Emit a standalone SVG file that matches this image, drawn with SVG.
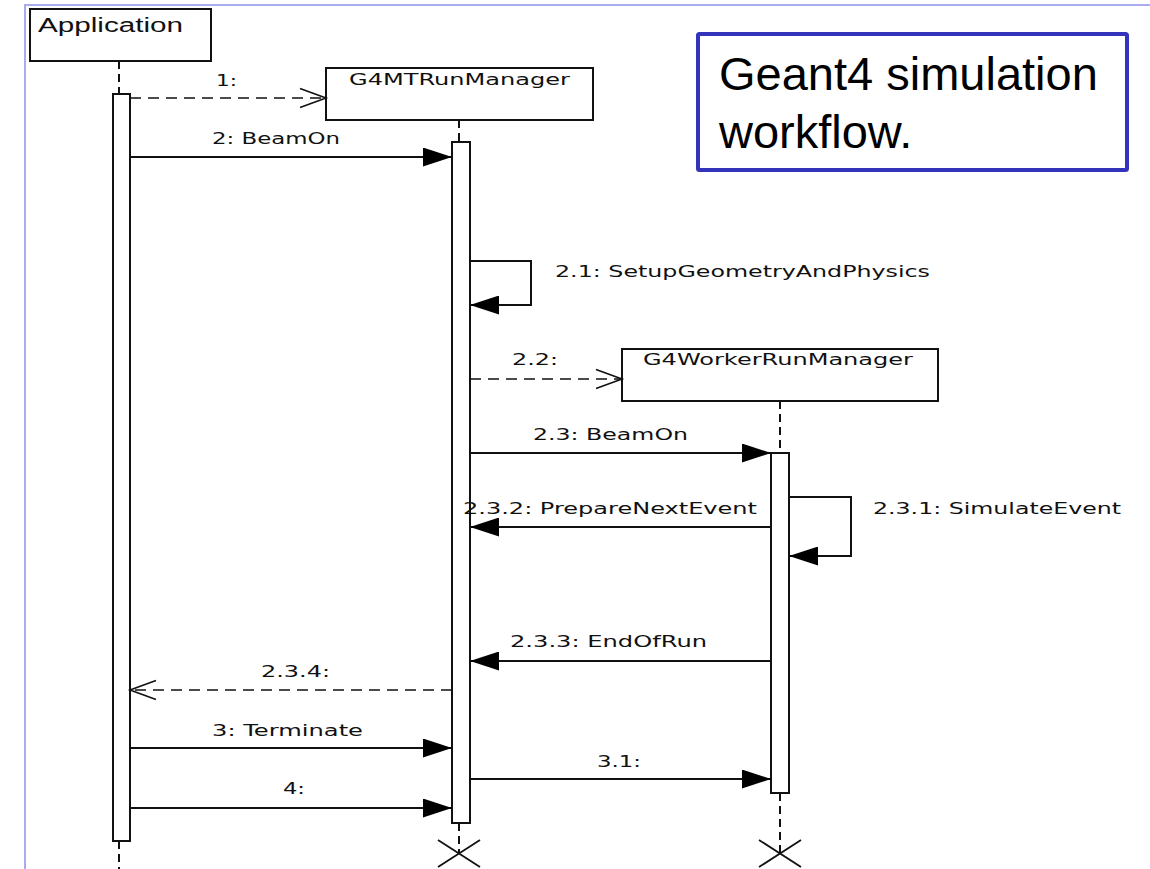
<svg xmlns="http://www.w3.org/2000/svg" width="1150" height="869" viewBox="0 0 1150 869">
  <defs>
    <style>
      .frame { stroke: #aaaaf0; stroke-width: 2; fill: none; }
      .box { fill: #ffffff; stroke: #111111; stroke-width: 2; }
      .bar { fill: #ffffff; stroke: #111111; stroke-width: 2; }
      .life { stroke: #111111; stroke-width: 2; stroke-dasharray: 8 5; fill: none; }
      .msg { stroke: #111111; stroke-width: 2; fill: none; }
      .ret { stroke: #111111; stroke-width: 1.6; fill: none; stroke-dasharray: 11 7; }
      .lbl { font-family: "DejaVu Sans", "Liberation Sans", sans-serif; font-size: 15px; fill: #111111; }
      .name { font-family: "DejaVu Sans", "Liberation Sans", sans-serif; font-size: 16px; fill: #111111; }
      .title { font-family: "Liberation Sans", Arial, sans-serif; font-size: 47px; fill: #000000; }
      .kill { stroke: #111111; stroke-width: 1.8; fill: none; }
    </style>
    <marker id="solid" markerUnits="userSpaceOnUse" markerWidth="29" markerHeight="19" viewBox="0 0 29 19" refX="29" refY="9.5" orient="auto">
      <path d="M0,0 L29,9.5 L0,19 Z" fill="#000000"/>
    </marker>
    <marker id="open" markerUnits="userSpaceOnUse" markerWidth="30" markerHeight="23" viewBox="-2 -2 30 23" refX="26" refY="9.5" orient="auto" overflow="visible">
      <path d="M0,0 L26,9.5 L0,19" fill="none" stroke="#111111" stroke-width="1.6"/>
    </marker>
  </defs>

  <!-- page frame -->
  <path class="frame" d="M25,869 V5 H1150"/>

  <!-- lifelines -->
  <g id="lifelines">
    <line class="life" x1="119" y1="61" x2="119" y2="94"/>
    <line class="life" x1="119" y1="841" x2="119" y2="869"/>
    <line class="life" x1="459" y1="120" x2="459" y2="142"/>
    <line class="life" x1="459" y1="823" x2="459" y2="853"/>
    <line class="life" x1="780" y1="401" x2="780" y2="453"/>
    <line class="life" x1="780" y1="793" x2="780" y2="853"/>
  </g>

  <!-- participants -->
  <g id="application">
    <rect class="box" x="30" y="9" width="181" height="52"/>
    <text x="38" y="32" font-family="Liberation Sans, Arial, sans-serif" font-size="20" fill="#111111" textLength="145" lengthAdjust="spacingAndGlyphs">Application</text>
    <rect class="bar" x="113" y="94" width="17" height="747"/>
  </g>

  <g id="mtRunManager">
    <rect class="box" x="326" y="68" width="267" height="52"/>
    <text class="name" x="349" y="85" textLength="221" lengthAdjust="spacingAndGlyphs">G4MTRunManager</text>
    <rect class="bar" x="452" y="142" width="18" height="681"/>
    <path class="kill" d="M438,840 L480,867 M480,840 L438,867"/>
  </g>

  <g id="workerRunManager">
    <rect class="box" x="622" y="349" width="316" height="52"/>
    <text class="name" x="643" y="365" textLength="270" lengthAdjust="spacingAndGlyphs">G4WorkerRunManager</text>
    <rect class="bar" x="771" y="453" width="18" height="340"/>
    <path class="kill" d="M759,840 L801,867 M801,840 L759,867"/>
  </g>

  <!-- caption -->
  <g id="caption">
    <rect x="698" y="34" width="429" height="136" rx="1.5" fill="#ffffff" stroke="#3333bb" stroke-width="4"/>
    <text class="title" x="719" y="90">Geant4 simulation</text>
    <text class="title" x="719" y="148">workflow.</text>
  </g>

  <!-- messages -->
  <g id="connectors">
    <line class="ret" x1="130" y1="98" x2="326" y2="98" marker-end="url(#open)"/>
    <line class="msg" x1="130" y1="157" x2="452" y2="157" marker-end="url(#solid)"/>
    <path class="msg" d="M470,261 H531 V305 H470" marker-end="url(#solid)"/>
    <line class="ret" x1="470" y1="379" x2="622" y2="379" marker-end="url(#open)"/>
    <line class="msg" x1="470" y1="453" x2="771" y2="453" marker-end="url(#solid)"/>
    <path class="msg" d="M789,497 H851 V556 H789" marker-end="url(#solid)"/>
    <line class="msg" x1="771" y1="527" x2="470" y2="527" marker-end="url(#solid)"/>
    <line class="msg" x1="771" y1="661" x2="470" y2="661" marker-end="url(#solid)"/>
    <line class="ret" x1="452" y1="690" x2="130" y2="690" marker-end="url(#open)"/>
    <line class="msg" x1="130" y1="748" x2="452" y2="748" marker-end="url(#solid)"/>
    <line class="msg" x1="470" y1="779" x2="771" y2="779" marker-end="url(#solid)"/>
    <line class="msg" x1="130" y1="808" x2="452" y2="808" marker-end="url(#solid)"/>
  </g>

  <!-- message labels -->
  <g id="labels">
    <text class="lbl" x="216" y="86" textLength="21" lengthAdjust="spacingAndGlyphs">1:</text>
    <text class="lbl" x="212" y="144" textLength="128" lengthAdjust="spacingAndGlyphs">2: BeamOn</text>
    <text class="lbl" x="555" y="277" textLength="375" lengthAdjust="spacingAndGlyphs">2.1: SetupGeometryAndPhysics</text>
    <text class="lbl" x="512" y="365" textLength="46" lengthAdjust="spacingAndGlyphs">2.2:</text>
    <text class="lbl" x="533" y="440" textLength="155" lengthAdjust="spacingAndGlyphs">2.3: BeamOn</text>
    <text class="lbl" x="463" y="514" textLength="294" lengthAdjust="spacingAndGlyphs">2.3.2: PrepareNextEvent</text>
    <text class="lbl" x="873" y="514" textLength="248" lengthAdjust="spacingAndGlyphs">2.3.1: SimulateEvent</text>
    <text class="lbl" x="510" y="647" textLength="197" lengthAdjust="spacingAndGlyphs">2.3.3: EndOfRun</text>
    <text class="lbl" x="261" y="677" textLength="69" lengthAdjust="spacingAndGlyphs">2.3.4:</text>
    <text class="lbl" x="212" y="736" textLength="151" lengthAdjust="spacingAndGlyphs">3: Terminate</text>
    <text class="lbl" x="597" y="767" textLength="44" lengthAdjust="spacingAndGlyphs">3.1:</text>
    <text class="lbl" x="283" y="794" textLength="22" lengthAdjust="spacingAndGlyphs">4:</text>
  </g>
</svg>
